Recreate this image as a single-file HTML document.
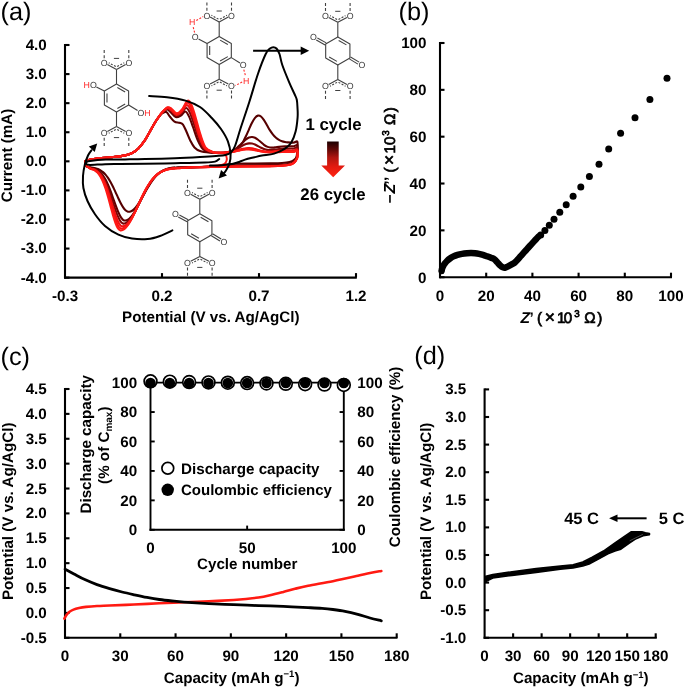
<!DOCTYPE html>
<html><head><meta charset="utf-8"><style>
html,body{margin:0;padding:0;background:#fff;}
svg{display:block;font-family:"Liberation Sans", sans-serif;text-rendering:geometricPrecision;filter:blur(0.3px);}
</style></head><body>
<svg width="685" height="687" viewBox="0 0 685 687">
<rect width="685" height="687" fill="#fff"/>
<text x="0.50" y="19.60" font-size="25.3" font-weight="normal" text-anchor="start" fill="#000">(a)</text>
<text x="398.50" y="19.60" font-size="25.3" font-weight="normal" text-anchor="start" fill="#000">(b)</text>
<text x="0.50" y="364.50" font-size="25.3" font-weight="normal" text-anchor="start" fill="#000">(c)</text>
<text x="414.30" y="364.00" font-size="25.3" font-weight="normal" text-anchor="start" fill="#000">(d)</text>
<line x1="65.00" y1="44.00" x2="65.00" y2="278.60" stroke="#000" stroke-width="2.1"/>
<line x1="64.00" y1="277.60" x2="356.80" y2="277.60" stroke="#000" stroke-width="2.1"/>
<line x1="65.00" y1="45.00" x2="69.50" y2="45.00" stroke="#000" stroke-width="2.1"/>
<text x="46.80" y="49.90" font-size="15.2" font-weight="bold" text-anchor="end" fill="#000">4.0</text>
<line x1="65.00" y1="74.08" x2="69.50" y2="74.08" stroke="#000" stroke-width="2.1"/>
<text x="46.80" y="78.98" font-size="15.2" font-weight="bold" text-anchor="end" fill="#000">3.0</text>
<line x1="65.00" y1="103.16" x2="69.50" y2="103.16" stroke="#000" stroke-width="2.1"/>
<text x="46.80" y="108.06" font-size="15.2" font-weight="bold" text-anchor="end" fill="#000">2.0</text>
<line x1="65.00" y1="132.24" x2="69.50" y2="132.24" stroke="#000" stroke-width="2.1"/>
<text x="46.80" y="137.14" font-size="15.2" font-weight="bold" text-anchor="end" fill="#000">1.0</text>
<line x1="65.00" y1="161.32" x2="69.50" y2="161.32" stroke="#000" stroke-width="2.1"/>
<text x="46.80" y="166.22" font-size="15.2" font-weight="bold" text-anchor="end" fill="#000">0.0</text>
<line x1="65.00" y1="190.40" x2="69.50" y2="190.40" stroke="#000" stroke-width="2.1"/>
<text x="46.80" y="195.30" font-size="15.2" font-weight="bold" text-anchor="end" fill="#000">-1.0</text>
<line x1="65.00" y1="219.48" x2="69.50" y2="219.48" stroke="#000" stroke-width="2.1"/>
<text x="46.80" y="224.38" font-size="15.2" font-weight="bold" text-anchor="end" fill="#000">-2.0</text>
<line x1="65.00" y1="248.56" x2="69.50" y2="248.56" stroke="#000" stroke-width="2.1"/>
<text x="46.80" y="253.46" font-size="15.2" font-weight="bold" text-anchor="end" fill="#000">-3.0</text>
<line x1="65.00" y1="277.64" x2="69.50" y2="277.64" stroke="#000" stroke-width="2.1"/>
<text x="46.80" y="282.54" font-size="15.2" font-weight="bold" text-anchor="end" fill="#000">-4.0</text>
<text x="65.00" y="301.30" font-size="15.2" font-weight="bold" text-anchor="middle" fill="#000">-0.3</text>
<line x1="162.00" y1="277.60" x2="162.00" y2="273.10" stroke="#000" stroke-width="2.1"/>
<text x="162.00" y="301.30" font-size="15.2" font-weight="bold" text-anchor="middle" fill="#000">0.2</text>
<line x1="259.00" y1="277.60" x2="259.00" y2="273.10" stroke="#000" stroke-width="2.1"/>
<text x="259.00" y="301.30" font-size="15.2" font-weight="bold" text-anchor="middle" fill="#000">0.7</text>
<line x1="356.00" y1="277.60" x2="356.00" y2="273.10" stroke="#000" stroke-width="2.1"/>
<text x="356.00" y="301.30" font-size="15.2" font-weight="bold" text-anchor="middle" fill="#000">1.2</text>
<text x="210.80" y="322.40" font-size="15.2" font-weight="bold" text-anchor="middle" fill="#000">Potential (V vs. Ag/AgCl)</text>
<text x="12.20" y="155.50" font-size="15.2" font-weight="bold" text-anchor="middle" fill="#000" transform="rotate(-90 12.2 155.5)">Current (mA)</text>
<line x1="440.00" y1="42.00" x2="440.00" y2="278.20" stroke="#000" stroke-width="2.1"/>
<line x1="439.00" y1="277.20" x2="672.00" y2="277.20" stroke="#000" stroke-width="2.1"/>
<line x1="440.00" y1="43.00" x2="444.50" y2="43.00" stroke="#000" stroke-width="2.1"/>
<text x="426.50" y="48.30" font-size="15.2" font-weight="bold" text-anchor="end" fill="#000">100</text>
<line x1="440.00" y1="89.84" x2="444.50" y2="89.84" stroke="#000" stroke-width="2.1"/>
<text x="426.50" y="95.14" font-size="15.2" font-weight="bold" text-anchor="end" fill="#000">80</text>
<line x1="440.00" y1="136.68" x2="444.50" y2="136.68" stroke="#000" stroke-width="2.1"/>
<text x="426.50" y="141.98" font-size="15.2" font-weight="bold" text-anchor="end" fill="#000">60</text>
<line x1="440.00" y1="183.52" x2="444.50" y2="183.52" stroke="#000" stroke-width="2.1"/>
<text x="426.50" y="188.82" font-size="15.2" font-weight="bold" text-anchor="end" fill="#000">40</text>
<line x1="440.00" y1="230.36" x2="444.50" y2="230.36" stroke="#000" stroke-width="2.1"/>
<text x="426.50" y="235.66" font-size="15.2" font-weight="bold" text-anchor="end" fill="#000">20</text>
<line x1="440.00" y1="277.20" x2="444.50" y2="277.20" stroke="#000" stroke-width="2.1"/>
<text x="426.50" y="282.50" font-size="15.2" font-weight="bold" text-anchor="end" fill="#000">0</text>
<text x="440.00" y="300.80" font-size="15.2" font-weight="bold" text-anchor="middle" fill="#000">0</text>
<line x1="486.20" y1="277.20" x2="486.20" y2="272.70" stroke="#000" stroke-width="2.1"/>
<text x="486.20" y="300.80" font-size="15.2" font-weight="bold" text-anchor="middle" fill="#000">20</text>
<line x1="532.40" y1="277.20" x2="532.40" y2="272.70" stroke="#000" stroke-width="2.1"/>
<text x="532.40" y="300.80" font-size="15.2" font-weight="bold" text-anchor="middle" fill="#000">40</text>
<line x1="578.60" y1="277.20" x2="578.60" y2="272.70" stroke="#000" stroke-width="2.1"/>
<text x="578.60" y="300.80" font-size="15.2" font-weight="bold" text-anchor="middle" fill="#000">60</text>
<line x1="624.80" y1="277.20" x2="624.80" y2="272.70" stroke="#000" stroke-width="2.1"/>
<text x="624.80" y="300.80" font-size="15.2" font-weight="bold" text-anchor="middle" fill="#000">80</text>
<line x1="671.00" y1="277.20" x2="671.00" y2="272.70" stroke="#000" stroke-width="2.1"/>
<text x="671.00" y="300.80" font-size="15.2" font-weight="bold" text-anchor="middle" fill="#000">100</text>
<text x="520.49" y="322.80" font-size="15.6" font-weight="bold" fill="#000" font-style="italic">Z</text>
<text x="529.54" y="322.80" font-size="15.2" font-weight="bold" fill="#000">’</text>
<text x="537.09" y="322.80" font-size="15.2" font-weight="normal" fill="#000" stroke="#000" stroke-width="0.7">(</text>
<text x="544.67" y="322.80" font-size="17.5" font-weight="normal" fill="#000" stroke="#000" stroke-width="0.7">×</text>
<text x="557.06" y="322.80" font-size="15.2" font-weight="normal" fill="#000" stroke="#000" stroke-width="0.7">1</text>
<text x="563.79" y="322.80" font-size="15.2" font-weight="normal" fill="#000" stroke="#000" stroke-width="0.7">0</text>
<text x="574.21" y="316.80" font-size="9.8" font-weight="normal" fill="#000" stroke="#000" stroke-width="0.7">3</text>
<text x="584.32" y="322.80" font-size="15.2" font-weight="normal" fill="#000" stroke="#000" stroke-width="0.7">Ω</text>
<text x="597.35" y="322.80" font-size="15.2" font-weight="normal" fill="#000" stroke="#000" stroke-width="0.7">)</text>
<text x="-203.21" y="0" font-size="15.2" font-weight="bold" fill="#000" transform="translate(395.20,0) rotate(-90)">−</text>
<text x="-193.40" y="0" font-size="16.0" font-weight="bold" fill="#000" font-style="italic" transform="translate(395.20,0) rotate(-90)">Z</text>
<text x="-184.66" y="0" font-size="15.2" font-weight="bold" fill="#000" transform="translate(395.20,0) rotate(-90)">’’</text>
<text x="-172.51" y="0" font-size="15.2" font-weight="normal" fill="#000" stroke="#000" stroke-width="0.7" transform="translate(395.20,0) rotate(-90)">(</text>
<text x="-164.92" y="0" font-size="17.5" font-weight="normal" fill="#000" stroke="#000" stroke-width="0.7" transform="translate(395.20,0) rotate(-90)">×</text>
<text x="-153.44" y="0" font-size="15.2" font-weight="normal" fill="#000" stroke="#000" stroke-width="0.7" transform="translate(395.20,0) rotate(-90)">1</text>
<text x="-145.01" y="0" font-size="15.2" font-weight="normal" fill="#000" stroke="#000" stroke-width="0.7" transform="translate(395.20,0) rotate(-90)">0</text>
<text x="-135.69" y="0" font-size="9.8" font-weight="normal" fill="#000" stroke="#000" stroke-width="0.7" transform="translate(389.20,0) rotate(-90)">3</text>
<text x="-125.08" y="0" font-size="15.2" font-weight="normal" fill="#000" stroke="#000" stroke-width="0.7" transform="translate(395.20,0) rotate(-90)">Ω</text>
<text x="-112.25" y="0" font-size="15.2" font-weight="normal" fill="#000" stroke="#000" stroke-width="0.7" transform="translate(395.20,0) rotate(-90)">)</text>
<line x1="65.00" y1="388.00" x2="65.00" y2="638.80" stroke="#000" stroke-width="2.1"/>
<line x1="64.00" y1="637.80" x2="397.50" y2="637.80" stroke="#000" stroke-width="2.1"/>
<line x1="65.00" y1="389.00" x2="69.50" y2="389.00" stroke="#000" stroke-width="2.1"/>
<text x="46.80" y="394.00" font-size="15.2" font-weight="bold" text-anchor="end" fill="#000">4.5</text>
<line x1="65.00" y1="413.88" x2="69.50" y2="413.88" stroke="#000" stroke-width="2.1"/>
<text x="46.80" y="418.88" font-size="15.2" font-weight="bold" text-anchor="end" fill="#000">4.0</text>
<line x1="65.00" y1="438.76" x2="69.50" y2="438.76" stroke="#000" stroke-width="2.1"/>
<text x="46.80" y="443.76" font-size="15.2" font-weight="bold" text-anchor="end" fill="#000">3.5</text>
<line x1="65.00" y1="463.64" x2="69.50" y2="463.64" stroke="#000" stroke-width="2.1"/>
<text x="46.80" y="468.64" font-size="15.2" font-weight="bold" text-anchor="end" fill="#000">3.0</text>
<line x1="65.00" y1="488.52" x2="69.50" y2="488.52" stroke="#000" stroke-width="2.1"/>
<text x="46.80" y="493.52" font-size="15.2" font-weight="bold" text-anchor="end" fill="#000">2.5</text>
<line x1="65.00" y1="513.40" x2="69.50" y2="513.40" stroke="#000" stroke-width="2.1"/>
<text x="46.80" y="518.40" font-size="15.2" font-weight="bold" text-anchor="end" fill="#000">2.0</text>
<line x1="65.00" y1="538.28" x2="69.50" y2="538.28" stroke="#000" stroke-width="2.1"/>
<text x="46.80" y="543.28" font-size="15.2" font-weight="bold" text-anchor="end" fill="#000">1.5</text>
<line x1="65.00" y1="563.16" x2="69.50" y2="563.16" stroke="#000" stroke-width="2.1"/>
<text x="46.80" y="568.16" font-size="15.2" font-weight="bold" text-anchor="end" fill="#000">1.0</text>
<line x1="65.00" y1="588.04" x2="69.50" y2="588.04" stroke="#000" stroke-width="2.1"/>
<text x="46.80" y="593.04" font-size="15.2" font-weight="bold" text-anchor="end" fill="#000">0.5</text>
<line x1="65.00" y1="612.92" x2="69.50" y2="612.92" stroke="#000" stroke-width="2.1"/>
<text x="46.80" y="617.92" font-size="15.2" font-weight="bold" text-anchor="end" fill="#000">0.0</text>
<line x1="65.00" y1="637.80" x2="69.50" y2="637.80" stroke="#000" stroke-width="2.1"/>
<text x="46.80" y="642.80" font-size="15.2" font-weight="bold" text-anchor="end" fill="#000">-0.5</text>
<text x="65.00" y="661.00" font-size="15.2" font-weight="bold" text-anchor="middle" fill="#000">0</text>
<line x1="120.28" y1="637.80" x2="120.28" y2="633.30" stroke="#000" stroke-width="2.1"/>
<text x="120.28" y="661.00" font-size="15.2" font-weight="bold" text-anchor="middle" fill="#000">30</text>
<line x1="175.57" y1="637.80" x2="175.57" y2="633.30" stroke="#000" stroke-width="2.1"/>
<text x="175.57" y="661.00" font-size="15.2" font-weight="bold" text-anchor="middle" fill="#000">60</text>
<line x1="230.85" y1="637.80" x2="230.85" y2="633.30" stroke="#000" stroke-width="2.1"/>
<text x="230.85" y="661.00" font-size="15.2" font-weight="bold" text-anchor="middle" fill="#000">90</text>
<line x1="286.13" y1="637.80" x2="286.13" y2="633.30" stroke="#000" stroke-width="2.1"/>
<text x="286.13" y="661.00" font-size="15.2" font-weight="bold" text-anchor="middle" fill="#000">120</text>
<line x1="341.42" y1="637.80" x2="341.42" y2="633.30" stroke="#000" stroke-width="2.1"/>
<text x="341.42" y="661.00" font-size="15.2" font-weight="bold" text-anchor="middle" fill="#000">150</text>
<line x1="396.70" y1="637.80" x2="396.70" y2="633.30" stroke="#000" stroke-width="2.1"/>
<text x="396.70" y="661.00" font-size="15.2" font-weight="bold" text-anchor="middle" fill="#000">180</text>
<text x="231.6" y="682.6" font-size="15.2" font-weight="bold" text-anchor="middle">Capacity (mAh g<tspan font-size="9.5" dy="-5.2">&#8722;1</tspan><tspan dy="5.2">)</tspan></text>
<text x="12.80" y="511.30" font-size="15.2" font-weight="bold" text-anchor="middle" fill="#000" transform="rotate(-90 12.8 511.3)">Potential (V vs. Ag/AgCl)</text>
<line x1="484.60" y1="388.40" x2="484.60" y2="638.80" stroke="#000" stroke-width="2.1"/>
<line x1="483.60" y1="637.80" x2="656.80" y2="637.80" stroke="#000" stroke-width="2.1"/>
<line x1="484.60" y1="389.40" x2="489.10" y2="389.40" stroke="#000" stroke-width="2.1"/>
<text x="466.30" y="394.40" font-size="15.2" font-weight="bold" text-anchor="end" fill="#000">3.5</text>
<line x1="484.60" y1="417.00" x2="489.10" y2="417.00" stroke="#000" stroke-width="2.1"/>
<text x="466.30" y="422.00" font-size="15.2" font-weight="bold" text-anchor="end" fill="#000">3.0</text>
<line x1="484.60" y1="444.60" x2="489.10" y2="444.60" stroke="#000" stroke-width="2.1"/>
<text x="466.30" y="449.60" font-size="15.2" font-weight="bold" text-anchor="end" fill="#000">2.5</text>
<line x1="484.60" y1="472.20" x2="489.10" y2="472.20" stroke="#000" stroke-width="2.1"/>
<text x="466.30" y="477.20" font-size="15.2" font-weight="bold" text-anchor="end" fill="#000">2.0</text>
<line x1="484.60" y1="499.80" x2="489.10" y2="499.80" stroke="#000" stroke-width="2.1"/>
<text x="466.30" y="504.80" font-size="15.2" font-weight="bold" text-anchor="end" fill="#000">1.5</text>
<line x1="484.60" y1="527.40" x2="489.10" y2="527.40" stroke="#000" stroke-width="2.1"/>
<text x="466.30" y="532.40" font-size="15.2" font-weight="bold" text-anchor="end" fill="#000">1.0</text>
<line x1="484.60" y1="555.00" x2="489.10" y2="555.00" stroke="#000" stroke-width="2.1"/>
<text x="466.30" y="560.00" font-size="15.2" font-weight="bold" text-anchor="end" fill="#000">0.5</text>
<line x1="484.60" y1="582.60" x2="489.10" y2="582.60" stroke="#000" stroke-width="2.1"/>
<text x="466.30" y="587.60" font-size="15.2" font-weight="bold" text-anchor="end" fill="#000">0.0</text>
<line x1="484.60" y1="610.20" x2="489.10" y2="610.20" stroke="#000" stroke-width="2.1"/>
<text x="466.30" y="615.20" font-size="15.2" font-weight="bold" text-anchor="end" fill="#000">-0.5</text>
<line x1="484.60" y1="637.80" x2="489.10" y2="637.80" stroke="#000" stroke-width="2.1"/>
<text x="466.30" y="642.80" font-size="15.2" font-weight="bold" text-anchor="end" fill="#000">-1.0</text>
<text x="484.60" y="661.00" font-size="15.2" font-weight="bold" text-anchor="middle" fill="#000">0</text>
<line x1="513.12" y1="637.80" x2="513.12" y2="633.30" stroke="#000" stroke-width="2.1"/>
<text x="513.12" y="661.00" font-size="15.2" font-weight="bold" text-anchor="middle" fill="#000">30</text>
<line x1="541.63" y1="637.80" x2="541.63" y2="633.30" stroke="#000" stroke-width="2.1"/>
<text x="541.63" y="661.00" font-size="15.2" font-weight="bold" text-anchor="middle" fill="#000">60</text>
<line x1="570.15" y1="637.80" x2="570.15" y2="633.30" stroke="#000" stroke-width="2.1"/>
<text x="570.15" y="661.00" font-size="15.2" font-weight="bold" text-anchor="middle" fill="#000">90</text>
<line x1="598.67" y1="637.80" x2="598.67" y2="633.30" stroke="#000" stroke-width="2.1"/>
<text x="598.67" y="661.00" font-size="15.2" font-weight="bold" text-anchor="middle" fill="#000">120</text>
<line x1="627.18" y1="637.80" x2="627.18" y2="633.30" stroke="#000" stroke-width="2.1"/>
<text x="627.18" y="661.00" font-size="15.2" font-weight="bold" text-anchor="middle" fill="#000">150</text>
<line x1="655.70" y1="637.80" x2="655.70" y2="633.30" stroke="#000" stroke-width="2.1"/>
<text x="655.70" y="661.00" font-size="15.2" font-weight="bold" text-anchor="middle" fill="#000">180</text>
<text x="580.8" y="682.8" font-size="15.2" font-weight="bold" text-anchor="middle">Capacity (mAh g<tspan font-size="9.5" dy="-5.2">&#8722;1</tspan><tspan dy="5.2">)</tspan></text>
<text x="431.00" y="511.30" font-size="15.2" font-weight="bold" text-anchor="middle" fill="#000" transform="rotate(-90 431.0 511.3)">Potential (V vs. Ag/AgCl)</text>
<path d="M441.60,271.00 C441.70,270.53 441.92,269.07 442.20,268.20 C442.48,267.33 442.83,266.62 443.30,265.80 C443.77,264.98 444.38,264.10 445.00,263.30 C445.62,262.50 446.17,261.80 447.00,261.00 C447.83,260.20 448.92,259.27 450.00,258.50 C451.08,257.73 452.25,257.00 453.50,256.40 C454.75,255.80 456.08,255.32 457.50,254.90 C458.92,254.48 460.42,254.17 462.00,253.90 C463.58,253.63 465.50,253.43 467.00,253.30 C468.50,253.17 469.67,253.10 471.00,253.10 C472.33,253.10 473.67,253.17 475.00,253.30 C476.33,253.43 477.67,253.63 479.00,253.90 C480.33,254.17 481.67,254.50 483.00,254.90 C484.33,255.30 485.67,255.82 487.00,256.30 C488.33,256.78 489.75,257.30 491.00,257.80 C492.25,258.30 493.43,258.53 494.50,259.30 C495.57,260.07 496.42,261.35 497.40,262.40 C498.38,263.45 499.47,264.77 500.40,265.60 C501.33,266.43 502.23,267.05 503.00,267.40 C503.77,267.75 504.23,267.83 505.00,267.70 C505.77,267.57 506.48,267.15 507.60,266.60 C508.72,266.05 510.52,265.07 511.70,264.40 C512.88,263.73 513.73,263.37 514.70,262.60 C515.67,261.83 516.47,260.92 517.50,259.80 C518.53,258.68 519.82,257.13 520.90,255.90 C521.98,254.67 522.98,253.53 524.00,252.40 C525.02,251.27 526.00,250.20 527.00,249.10 C528.00,248.00 528.98,246.92 530.00,245.80 C531.02,244.68 532.10,243.50 533.10,242.40 C534.10,241.30 535.10,240.17 536.00,239.20 C536.90,238.23 538.08,237.03 538.50,236.60" stroke="#000" stroke-width="6.5" fill="none" stroke-linejoin="round" stroke-linecap="round"/>
<circle cx="540.7" cy="235.0" r="3.5" fill="#000"/>
<circle cx="544.9" cy="230.5" r="3.5" fill="#000"/>
<circle cx="549.3" cy="225.3" r="3.5" fill="#000"/>
<circle cx="554.0" cy="219.2" r="3.5" fill="#000"/>
<circle cx="559.8" cy="212.3" r="3.5" fill="#000"/>
<circle cx="566.2" cy="204.8" r="3.5" fill="#000"/>
<circle cx="573.1" cy="196.3" r="3.5" fill="#000"/>
<circle cx="580.8" cy="186.9" r="3.5" fill="#000"/>
<circle cx="589.4" cy="176.4" r="3.5" fill="#000"/>
<circle cx="599.0" cy="164.2" r="3.5" fill="#000"/>
<circle cx="608.7" cy="149.0" r="3.5" fill="#000"/>
<circle cx="620.6" cy="133.2" r="3.5" fill="#000"/>
<circle cx="635.0" cy="117.8" r="3.5" fill="#000"/>
<circle cx="649.9" cy="99.5" r="3.5" fill="#000"/>
<circle cx="667.0" cy="78.2" r="3.5" fill="#000"/>
<path d="M64.40,618.60 C64.72,618.03 65.50,616.30 66.30,615.20 C67.10,614.10 68.00,612.93 69.20,612.00 C70.40,611.07 71.87,610.27 73.50,609.60 C75.13,608.93 76.92,608.45 79.00,608.00 C81.08,607.55 83.00,607.23 86.00,606.90 C89.00,606.57 93.07,606.23 97.00,606.00 C100.93,605.77 103.43,605.75 109.60,605.50 C115.77,605.25 125.72,604.87 134.00,604.50 C142.28,604.13 150.97,603.67 159.30,603.30 C167.63,602.93 175.73,602.63 184.00,602.30 C192.27,601.97 200.62,601.68 208.90,601.30 C217.18,600.92 227.52,600.38 233.70,600.00 C239.88,599.62 241.87,599.42 246.00,599.00 C250.13,598.58 254.50,598.13 258.50,597.50 C262.50,596.87 265.87,596.13 270.00,595.20 C274.13,594.27 279.13,592.97 283.30,591.90 C287.47,590.83 290.87,589.82 295.00,588.80 C299.13,587.78 301.78,587.07 308.10,585.80 C314.42,584.53 324.62,582.87 332.90,581.20 C341.18,579.53 351.62,577.17 357.80,575.80 C363.98,574.43 366.08,573.80 370.00,573.00 C373.92,572.20 379.42,571.33 381.30,571.00" stroke="#ff1a12" stroke-width="2.6" fill="none" stroke-linejoin="round" stroke-linecap="round"/>
<path d="M65.10,569.20 C66.58,570.00 70.72,572.27 74.00,574.00 C77.28,575.73 80.97,577.83 84.80,579.60 C88.63,581.37 92.87,583.10 97.00,584.60 C101.13,586.10 105.43,587.37 109.60,588.60 C113.77,589.83 117.87,590.97 122.00,592.00 C126.13,593.03 130.23,593.90 134.40,594.80 C138.57,595.70 142.85,596.62 147.00,597.40 C151.15,598.18 155.13,598.90 159.30,599.50 C163.47,600.10 167.88,600.57 172.00,601.00 C176.12,601.43 177.85,601.67 184.00,602.10 C190.15,602.53 200.62,603.17 208.90,603.60 C217.18,604.03 225.43,604.37 233.70,604.70 C241.97,605.03 250.23,605.32 258.50,605.60 C266.77,605.88 275.03,606.07 283.30,606.40 C291.57,606.73 301.65,607.27 308.10,607.60 C314.55,607.93 317.87,608.08 322.00,608.40 C326.13,608.72 329.07,609.02 332.90,609.50 C336.73,609.98 340.85,610.50 345.00,611.30 C349.15,612.10 353.63,613.18 357.80,614.30 C361.97,615.42 366.08,616.92 370.00,618.00 C373.92,619.08 379.42,620.33 381.30,620.80" stroke="#000" stroke-width="2.8" fill="none" stroke-linejoin="round" stroke-linecap="round"/>
<line x1="150.50" y1="382.60" x2="150.50" y2="530.80" stroke="#000" stroke-width="1.9"/>
<line x1="343.80" y1="382.60" x2="343.80" y2="530.80" stroke="#000" stroke-width="1.9"/>
<line x1="149.50" y1="529.80" x2="344.80" y2="529.80" stroke="#000" stroke-width="1.9"/>
<line x1="150.50" y1="529.80" x2="154.70" y2="529.80" stroke="#000" stroke-width="1.9"/>
<line x1="343.80" y1="529.80" x2="339.60" y2="529.80" stroke="#000" stroke-width="1.9"/>
<text x="137.20" y="535.00" font-size="15.2" font-weight="bold" text-anchor="end" fill="#000">0</text>
<text x="357.30" y="535.00" font-size="15.2" font-weight="bold" text-anchor="start" fill="#000">0</text>
<line x1="150.50" y1="500.36" x2="154.70" y2="500.36" stroke="#000" stroke-width="1.9"/>
<line x1="343.80" y1="500.36" x2="339.60" y2="500.36" stroke="#000" stroke-width="1.9"/>
<text x="137.20" y="505.56" font-size="15.2" font-weight="bold" text-anchor="end" fill="#000">20</text>
<text x="357.30" y="505.56" font-size="15.2" font-weight="bold" text-anchor="start" fill="#000">20</text>
<line x1="150.50" y1="470.92" x2="154.70" y2="470.92" stroke="#000" stroke-width="1.9"/>
<line x1="343.80" y1="470.92" x2="339.60" y2="470.92" stroke="#000" stroke-width="1.9"/>
<text x="137.20" y="476.12" font-size="15.2" font-weight="bold" text-anchor="end" fill="#000">40</text>
<text x="357.30" y="476.12" font-size="15.2" font-weight="bold" text-anchor="start" fill="#000">40</text>
<line x1="150.50" y1="441.48" x2="154.70" y2="441.48" stroke="#000" stroke-width="1.9"/>
<line x1="343.80" y1="441.48" x2="339.60" y2="441.48" stroke="#000" stroke-width="1.9"/>
<text x="137.20" y="446.68" font-size="15.2" font-weight="bold" text-anchor="end" fill="#000">60</text>
<text x="357.30" y="446.68" font-size="15.2" font-weight="bold" text-anchor="start" fill="#000">60</text>
<line x1="150.50" y1="412.04" x2="154.70" y2="412.04" stroke="#000" stroke-width="1.9"/>
<line x1="343.80" y1="412.04" x2="339.60" y2="412.04" stroke="#000" stroke-width="1.9"/>
<text x="137.20" y="417.24" font-size="15.2" font-weight="bold" text-anchor="end" fill="#000">80</text>
<text x="357.30" y="417.24" font-size="15.2" font-weight="bold" text-anchor="start" fill="#000">80</text>
<line x1="150.50" y1="382.60" x2="154.70" y2="382.60" stroke="#000" stroke-width="1.9"/>
<line x1="343.80" y1="382.60" x2="339.60" y2="382.60" stroke="#000" stroke-width="1.9"/>
<text x="137.20" y="387.80" font-size="15.2" font-weight="bold" text-anchor="end" fill="#000">100</text>
<text x="357.30" y="387.80" font-size="15.2" font-weight="bold" text-anchor="start" fill="#000">100</text>
<line x1="247.15" y1="529.80" x2="247.15" y2="525.60" stroke="#000" stroke-width="1.9"/>
<text x="150.50" y="552.80" font-size="15.2" font-weight="bold" text-anchor="middle" fill="#000">0</text>
<text x="247.15" y="552.80" font-size="15.2" font-weight="bold" text-anchor="middle" fill="#000">50</text>
<text x="343.80" y="552.80" font-size="15.2" font-weight="bold" text-anchor="middle" fill="#000">100</text>
<text x="247.20" y="569.00" font-size="15.2" font-weight="bold" text-anchor="middle" fill="#000">Cycle number</text>
<line x1="150.50" y1="382.60" x2="343.80" y2="382.60" stroke="#000" stroke-width="1.6"/>
<circle cx="150.50" cy="381.30" r="6.4" fill="#fff" stroke="#000" stroke-width="1.7"/>
<circle cx="150.50" cy="383.0" r="5.3" fill="#000"/>
<circle cx="169.83" cy="381.66" r="6.4" fill="#fff" stroke="#000" stroke-width="1.7"/>
<circle cx="169.83" cy="383.0" r="5.3" fill="#000"/>
<circle cx="189.16" cy="382.02" r="6.4" fill="#fff" stroke="#000" stroke-width="1.7"/>
<circle cx="189.16" cy="383.0" r="5.3" fill="#000"/>
<circle cx="208.49" cy="382.38" r="6.4" fill="#fff" stroke="#000" stroke-width="1.7"/>
<circle cx="208.49" cy="383.0" r="5.3" fill="#000"/>
<circle cx="227.82" cy="382.74" r="6.4" fill="#fff" stroke="#000" stroke-width="1.7"/>
<circle cx="227.82" cy="383.0" r="5.3" fill="#000"/>
<circle cx="247.15" cy="383.10" r="6.4" fill="#fff" stroke="#000" stroke-width="1.7"/>
<circle cx="247.15" cy="383.0" r="5.3" fill="#000"/>
<circle cx="266.48" cy="383.46" r="6.4" fill="#fff" stroke="#000" stroke-width="1.7"/>
<circle cx="266.48" cy="383.0" r="5.3" fill="#000"/>
<circle cx="285.81" cy="383.82" r="6.4" fill="#fff" stroke="#000" stroke-width="1.7"/>
<circle cx="285.81" cy="383.0" r="5.3" fill="#000"/>
<circle cx="305.14" cy="384.18" r="6.4" fill="#fff" stroke="#000" stroke-width="1.7"/>
<circle cx="305.14" cy="383.0" r="5.3" fill="#000"/>
<circle cx="324.47" cy="384.54" r="6.4" fill="#fff" stroke="#000" stroke-width="1.7"/>
<circle cx="324.47" cy="383.0" r="5.3" fill="#000"/>
<circle cx="343.80" cy="384.90" r="6.4" fill="#fff" stroke="#000" stroke-width="1.7"/>
<circle cx="343.80" cy="383.0" r="5.3" fill="#000"/>
<circle cx="167.8" cy="468.2" r="5.9" fill="#fff" stroke="#000" stroke-width="1.7"/>
<circle cx="167.7" cy="489.8" r="6.2" fill="#000"/>
<text x="181.00" y="473.90" font-size="15.2" font-weight="bold" text-anchor="start" fill="#000">Discharge capacity</text>
<text x="181.00" y="494.60" font-size="15.0" font-weight="bold" text-anchor="start" fill="#000">Coulombic efficiency</text>
<text x="91.00" y="444.30" font-size="15.2" font-weight="bold" text-anchor="middle" fill="#000" transform="rotate(-90 91.0 444.3)">Discharge capacity</text>
<text x="108.6" y="445.2" font-size="15.2" font-weight="bold" text-anchor="middle" transform="rotate(-90 108.6 445.2)">(% of C<tspan font-size="10" dy="3.5">max</tspan><tspan dy="-3.5">)</tspan></text>
<text x="399.50" y="457.00" font-size="15.2" font-weight="bold" text-anchor="middle" fill="#000" transform="rotate(-90 399.5 457.0)">Coulombic efficiency (%)</text>
<path d="M484.8,576.5 L492.8,574.4 L512.1,571.7 L536.2,568.5 L560.3,566.1 L573.1,564.8 L582.8,562.0 L591.7,557.4 L603.4,551.0 L615.0,542.8 L624.4,536.4 L631.4,531.7 L641.9,531.7 L645.4,532.8 L649.5,533.6 L649.5,534.8 L643.1,535.8 L636.1,538.7 L629.0,543.4 L620.9,549.2 L615.0,551.0 L608.0,553.9 L597.5,559.7 L590.0,563.7 L582.8,566.1 L573.1,568.0 L560.3,569.3 L536.2,572.5 L512.1,575.4 L492.8,578.1 L484.8,582.1Z" fill="#000" stroke="#000" stroke-width="1.5" stroke-linejoin="round"/>
<line x1="629.7" y1="540.8" x2="642.8" y2="534.4" stroke="#777" stroke-width="0.6"/>
<text x="564.20" y="524.00" font-size="16.5" font-weight="bold" text-anchor="start" fill="#000">45 C</text>
<text x="658.80" y="524.00" font-size="16.5" font-weight="bold" text-anchor="start" fill="#000">5 C</text>
<line x1="616.00" y1="518.30" x2="646.60" y2="518.30" stroke="#000" stroke-width="2.0"/>
<path d="M609.1,518.3 L617.5,514.6 L617.5,522.0 Z" fill="#000"/>
<path d="M85.90,160.90 C87.57,160.13 91.25,159.40 95.40,158.80 C99.55,158.20 106.03,157.83 110.80,157.30 C115.57,156.77 120.43,156.32 124.00,155.60 C127.57,154.88 129.80,154.20 132.20,153.00 C134.60,151.80 136.27,150.53 138.40,148.40 C140.53,146.27 142.98,143.18 145.00,140.20 C147.02,137.22 148.70,133.65 150.50,130.50 C152.30,127.35 153.95,124.08 155.80,121.30 C157.65,118.52 159.85,115.35 161.60,113.80 C163.35,112.25 164.93,111.55 166.30,112.00 C167.67,112.45 168.43,114.90 169.80,116.50 C171.17,118.10 172.88,120.55 174.50,121.60 C176.12,122.65 178.08,122.30 179.50,122.80 C180.92,123.30 181.83,123.10 183.00,124.60 C184.17,126.10 185.25,129.07 186.50,131.80 C187.75,134.53 189.17,138.38 190.50,141.00 C191.83,143.62 192.92,145.83 194.50,147.50 C196.08,149.17 197.42,150.15 200.00,151.00 C202.58,151.85 206.50,152.27 210.00,152.60 C213.50,152.93 218.00,152.99 221.00,153.00 C224.00,153.01 226.33,152.80 228.00,152.67 C229.67,152.53 230.00,152.44 231.00,152.19 C232.00,151.95 233.00,151.68 234.00,151.22 C235.00,150.76 236.00,150.22 237.00,149.41 C238.00,148.61 239.00,147.65 240.00,146.40 C241.00,145.15 242.00,143.65 243.00,141.93 C244.00,140.20 245.00,138.15 246.00,136.05 C247.00,133.95 248.00,131.53 249.00,129.33 C250.00,127.13 251.00,124.74 252.00,122.83 C253.00,120.92 254.00,119.08 255.00,117.88 C256.00,116.68 257.00,115.85 258.00,115.63 C259.00,115.40 260.00,115.78 261.00,116.53 C262.00,117.29 263.00,118.69 264.00,120.15 C265.00,121.60 266.00,123.54 267.00,125.25 C268.00,126.95 269.00,128.83 270.00,130.40 C271.00,131.97 272.00,133.42 273.00,134.65 C274.00,135.88 275.00,136.89 276.00,137.76 C277.00,138.63 278.00,139.31 279.00,139.88 C280.00,140.46 281.00,140.87 282.00,141.22 C283.00,141.58 284.00,141.79 285.00,141.98 C286.00,142.17 287.00,142.27 288.00,142.36 C289.00,142.45 290.00,142.49 291.00,142.53 C292.00,142.56 292.95,142.74 294.00,142.58 C295.05,142.43 296.72,140.76 297.30,141.60 C297.88,142.44 297.62,145.13 297.50,147.60 C297.38,150.07 297.15,154.37 296.60,156.40 C296.05,158.43 295.38,158.87 294.20,159.80 C293.02,160.73 291.53,161.47 289.50,162.00 C287.47,162.53 285.25,162.77 282.00,163.00 C278.75,163.23 274.50,163.30 270.00,163.40 C265.50,163.50 260.83,163.53 255.00,163.60 C249.17,163.67 241.67,163.40 235.00,163.80 C228.33,164.20 221.67,165.43 215.00,166.00 C208.33,166.57 201.17,166.99 195.00,167.20 C188.83,167.41 181.25,167.20 178.00,167.24 C174.75,167.27 176.33,167.33 175.50,167.40 C174.67,167.47 173.83,167.55 173.00,167.65 C172.17,167.76 171.33,167.88 170.50,168.04 C169.67,168.20 168.83,168.38 168.00,168.61 C167.17,168.84 166.33,169.11 165.50,169.43 C164.67,169.76 163.83,170.12 163.00,170.57 C162.17,171.01 161.33,171.51 160.50,172.10 C159.67,172.68 158.83,173.33 158.00,174.08 C157.17,174.83 156.33,175.66 155.50,176.58 C154.67,177.51 153.83,178.52 153.00,179.62 C152.17,180.72 151.33,181.92 150.50,183.18 C149.67,184.44 148.83,185.79 148.00,187.18 C147.17,188.57 146.33,190.04 145.50,191.50 C144.67,192.97 143.83,194.49 143.00,195.96 C142.17,197.43 141.33,198.93 140.50,200.32 C139.67,201.71 138.83,203.08 138.00,204.30 C137.17,205.53 136.33,206.68 135.50,207.65 C134.67,208.62 133.83,209.48 133.00,210.12 C132.17,210.77 131.33,211.26 130.50,211.52 C129.67,211.78 128.83,211.92 128.00,211.71 C127.17,211.49 126.33,211.00 125.50,210.23 C124.67,209.47 123.83,208.38 123.00,207.14 C122.17,205.90 121.33,204.36 120.50,202.78 C119.67,201.19 118.83,199.38 118.00,197.61 C117.17,195.84 116.33,193.94 115.50,192.14 C114.67,190.35 113.83,188.52 113.00,186.83 C112.17,185.14 111.33,183.50 110.50,182.01 C109.67,180.52 108.83,179.14 108.00,177.91 C107.17,176.67 106.33,175.58 105.50,174.61 C104.67,173.64 103.83,172.82 103.00,172.10 C102.17,171.38 101.33,170.79 100.50,170.28 C99.67,169.77 98.83,169.37 98.00,169.02 C97.17,168.68 96.33,168.42 95.50,168.20 C94.67,167.98 93.83,167.82 93.00,167.68 C92.17,167.54 91.30,167.49 90.50,167.37 C89.70,167.26 88.92,167.26 88.20,167.00 C87.48,166.74 86.67,166.40 86.20,165.80 C85.73,165.20 85.45,164.22 85.40,163.40 C85.35,162.58 84.23,161.67 85.90,160.90Z" stroke="#560000" stroke-width="2.1" fill="none" stroke-linejoin="round" stroke-linecap="round"/>
<path d="M85.90,160.90 C87.57,160.13 91.25,159.40 95.40,158.80 C99.55,158.20 106.03,157.83 110.80,157.30 C115.57,156.77 120.43,156.32 124.00,155.60 C127.57,154.88 129.80,154.20 132.20,153.00 C134.60,151.80 136.27,150.53 138.40,148.40 C140.53,146.27 142.98,143.18 145.00,140.20 C147.02,137.22 148.70,133.65 150.50,130.50 C152.30,127.35 153.89,124.24 155.80,121.30 C157.71,118.36 160.12,114.85 161.99,112.86 C163.85,110.88 165.56,109.51 167.02,109.41 C168.47,109.31 169.28,110.99 170.74,112.27 C172.19,113.54 174.08,116.55 175.77,117.09 C177.46,117.63 179.28,116.41 180.88,115.48 C182.47,114.56 184.00,111.38 185.37,111.56 C186.73,111.75 187.80,114.01 189.08,116.62 C190.37,119.23 191.64,123.30 193.08,127.25 C194.53,131.20 196.07,136.65 197.75,140.30 C199.42,143.94 200.76,147.12 203.13,149.13 C205.51,151.14 209.00,151.75 211.98,152.38 C214.96,153.01 218.33,152.94 221.00,152.89 C223.67,152.84 226.33,152.37 228.00,152.09 C229.67,151.81 230.00,151.60 231.00,151.21 C232.00,150.83 233.00,150.36 234.00,149.78 C235.00,149.19 236.00,148.49 237.00,147.71 C238.00,146.92 239.00,145.99 240.00,145.06 C241.00,144.14 242.00,143.08 243.00,142.15 C244.00,141.21 245.00,140.22 246.00,139.46 C247.00,138.69 248.00,137.99 249.00,137.58 C250.00,137.16 251.00,136.93 252.00,136.97 C253.00,137.00 254.00,137.30 255.00,137.76 C256.00,138.22 257.00,138.97 258.00,139.72 C259.00,140.47 260.00,141.44 261.00,142.28 C262.00,143.12 263.00,144.05 264.00,144.78 C265.00,145.50 266.00,146.17 267.00,146.62 C268.00,147.08 269.00,147.36 270.00,147.52 C271.00,147.68 272.00,147.64 273.00,147.59 C274.00,147.54 275.00,147.36 276.00,147.24 C277.00,147.11 278.00,146.96 279.00,146.85 C280.00,146.74 281.00,146.64 282.00,146.57 C283.00,146.49 284.00,146.44 285.00,146.40 C286.00,146.35 287.00,146.33 288.00,146.30 C289.00,146.28 290.00,146.27 291.00,146.25 C292.00,146.24 292.95,146.40 294.00,146.23 C295.05,146.05 296.72,144.37 297.30,145.20 C297.88,146.03 297.62,149.04 297.50,151.20 C297.38,153.36 297.15,156.44 296.60,158.16 C296.05,159.89 295.38,160.63 294.20,161.56 C293.02,162.50 291.53,163.23 289.50,163.76 C287.47,164.30 285.25,164.53 282.00,164.76 C278.75,165.00 274.50,165.06 270.00,165.16 C265.50,165.26 260.83,165.30 255.00,165.36 C249.17,165.43 241.67,165.37 235.00,165.56 C228.33,165.75 221.67,166.23 215.00,166.50 C208.33,166.78 201.17,167.00 195.00,167.20 C188.83,167.40 181.25,167.60 178.00,167.71 C174.75,167.82 176.33,167.80 175.50,167.86 C174.67,167.93 173.83,168.00 173.00,168.10 C172.17,168.20 171.33,168.31 170.50,168.46 C169.67,168.60 168.83,168.77 168.00,168.98 C167.17,169.19 166.33,169.43 165.50,169.73 C164.67,170.02 163.83,170.35 163.00,170.76 C162.17,171.16 161.33,171.62 160.50,172.15 C159.67,172.69 158.83,173.29 158.00,173.98 C157.17,174.68 156.33,175.44 155.50,176.31 C154.67,177.18 153.83,178.13 153.00,179.18 C152.17,180.23 151.33,181.38 150.50,182.62 C149.67,183.86 148.83,185.20 148.00,186.61 C147.17,188.01 146.33,189.52 145.50,191.06 C144.67,192.61 143.83,194.24 143.00,195.87 C142.17,197.50 141.33,199.20 140.50,200.84 C139.67,202.49 138.83,204.17 138.00,205.76 C137.17,207.35 136.33,208.92 135.50,210.36 C134.67,211.79 133.83,213.17 133.00,214.37 C132.17,215.56 131.33,216.65 130.50,217.53 C129.67,218.41 128.83,219.14 128.00,219.65 C127.17,220.15 126.33,220.53 125.50,220.56 C124.67,220.58 123.83,220.46 123.00,219.81 C122.17,219.16 121.33,218.03 120.50,216.64 C119.67,215.25 118.83,213.41 118.00,211.46 C117.17,209.51 116.33,207.21 115.50,204.95 C114.67,202.69 113.83,200.21 113.00,197.88 C112.17,195.55 111.33,193.16 110.50,190.97 C109.67,188.78 108.83,186.66 108.00,184.76 C107.17,182.86 106.33,181.12 105.50,179.59 C104.67,178.05 103.83,176.72 103.00,175.56 C102.17,174.39 101.33,173.44 100.50,172.61 C99.67,171.78 98.83,171.14 98.00,170.58 C97.17,170.02 96.33,169.62 95.50,169.26 C94.67,168.91 93.83,168.67 93.00,168.45 C92.17,168.24 91.30,168.23 90.50,167.98 C89.70,167.74 88.92,167.36 88.20,167.00 C87.48,166.64 86.67,166.40 86.20,165.80 C85.73,165.20 85.45,164.22 85.40,163.40 C85.35,162.58 84.23,161.67 85.90,160.90Z" stroke="#600000" stroke-width="2.1" fill="none" stroke-linejoin="round" stroke-linecap="round"/>
<path d="M85.90,160.90 C87.57,160.13 91.25,159.40 95.40,158.80 C99.55,158.20 106.03,157.83 110.80,157.30 C115.57,156.77 120.43,156.32 124.00,155.60 C127.57,154.88 129.80,154.20 132.20,153.00 C134.60,151.80 136.27,150.53 138.40,148.40 C140.53,146.27 142.98,143.18 145.00,140.20 C147.02,137.22 148.70,133.65 150.50,130.50 C152.30,127.35 153.87,124.28 155.80,121.30 C157.73,118.32 160.19,114.71 162.09,112.61 C163.99,110.51 165.73,108.96 167.21,108.71 C168.69,108.46 169.51,109.92 170.99,111.11 C172.47,112.30 174.40,115.46 176.11,115.86 C177.82,116.26 179.60,114.80 181.25,113.49 C182.90,112.18 184.59,108.18 186.01,108.01 C187.43,107.84 188.49,109.90 189.79,112.48 C191.09,115.06 192.32,119.19 193.79,123.50 C195.26,127.81 196.93,134.14 198.63,138.33 C200.33,142.52 201.67,146.29 203.99,148.62 C206.30,150.95 209.68,151.61 212.52,152.32 C215.35,153.03 218.42,152.89 221.00,152.86 C223.58,152.83 226.33,152.38 228.00,152.13 C229.67,151.88 230.00,151.70 231.00,151.39 C232.00,151.07 233.00,150.70 234.00,150.27 C235.00,149.83 236.00,149.31 237.00,148.77 C238.00,148.24 239.00,147.62 240.00,147.04 C241.00,146.47 242.00,145.85 243.00,145.34 C244.00,144.84 245.00,144.34 246.00,144.02 C247.00,143.69 248.00,143.45 249.00,143.38 C250.00,143.31 251.00,143.39 252.00,143.59 C253.00,143.80 254.00,144.17 255.00,144.59 C256.00,145.00 257.00,145.57 258.00,146.09 C259.00,146.61 260.00,147.21 261.00,147.71 C262.00,148.20 263.00,148.70 264.00,149.07 C265.00,149.43 266.00,149.73 267.00,149.90 C268.00,150.08 269.00,150.13 270.00,150.12 C271.00,150.12 272.00,149.98 273.00,149.87 C274.00,149.75 275.00,149.56 276.00,149.43 C277.00,149.29 278.00,149.15 279.00,149.05 C280.00,148.94 281.00,148.86 282.00,148.79 C283.00,148.73 284.00,148.69 285.00,148.65 C286.00,148.61 287.00,148.59 288.00,148.58 C289.00,148.56 290.00,148.55 291.00,148.54 C292.00,148.53 292.95,148.69 294.00,148.52 C295.05,148.35 296.72,146.67 297.30,147.50 C297.88,148.33 297.62,151.63 297.50,153.50 C297.38,155.37 297.15,157.26 296.60,158.70 C296.05,160.13 295.38,161.16 294.20,162.10 C293.02,163.03 291.53,163.76 289.50,164.30 C287.47,164.83 285.25,165.06 282.00,165.30 C278.75,165.53 274.50,165.60 270.00,165.70 C265.50,165.80 260.83,165.83 255.00,165.90 C249.17,165.96 241.67,165.97 235.00,166.10 C228.33,166.22 221.67,166.47 215.00,166.66 C208.33,166.84 201.17,167.00 195.00,167.20 C188.83,167.40 181.25,167.73 178.00,167.87 C174.75,168.00 176.33,167.95 175.50,168.02 C174.67,168.08 173.83,168.15 173.00,168.25 C172.17,168.35 171.33,168.45 170.50,168.60 C169.67,168.74 168.83,168.90 168.00,169.10 C167.17,169.31 166.33,169.54 165.50,169.82 C164.67,170.11 163.83,170.43 163.00,170.82 C162.17,171.21 161.33,171.65 160.50,172.17 C159.67,172.69 158.83,173.27 158.00,173.94 C157.17,174.61 156.33,175.36 155.50,176.20 C154.67,177.04 153.83,177.97 153.00,179.00 C152.17,180.03 151.33,181.16 150.50,182.37 C149.67,183.59 148.83,184.91 148.00,186.31 C147.17,187.71 146.33,189.21 145.50,190.76 C144.67,192.31 143.83,193.95 143.00,195.61 C142.17,197.27 141.33,199.00 140.50,200.71 C139.67,202.41 138.83,204.17 138.00,205.84 C137.17,207.52 136.33,209.20 135.50,210.76 C134.67,212.33 133.83,213.85 133.00,215.21 C132.17,216.57 131.33,217.84 130.50,218.91 C129.67,219.99 128.83,220.93 128.00,221.64 C127.17,222.36 126.33,222.92 125.50,223.22 C124.67,223.53 123.83,223.80 123.00,223.49 C122.17,223.17 121.33,222.48 120.50,221.34 C119.67,220.19 118.83,218.52 118.00,216.64 C117.17,214.77 116.33,212.44 115.50,210.09 C114.67,207.74 113.83,205.08 113.00,202.54 C112.17,200.01 111.33,197.33 110.50,194.88 C109.67,192.42 108.83,189.99 108.00,187.82 C107.17,185.64 106.33,183.61 105.50,181.83 C104.67,180.04 103.83,178.47 103.00,177.10 C102.17,175.74 101.33,174.61 100.50,173.63 C99.67,172.66 98.83,171.90 98.00,171.24 C97.17,170.58 96.33,170.11 95.50,169.69 C94.67,169.28 93.83,168.99 93.00,168.75 C92.17,168.50 91.30,168.50 90.50,168.20 C89.70,167.91 88.92,167.40 88.20,167.00 C87.48,166.60 86.67,166.40 86.20,165.80 C85.73,165.20 85.45,164.22 85.40,163.40 C85.35,162.58 84.23,161.67 85.90,160.90Z" stroke="#7c0606" stroke-width="2.1" fill="none" stroke-linejoin="round" stroke-linecap="round"/>
<path d="M85.90,160.90 C87.57,160.13 91.25,159.40 95.40,158.80 C99.55,158.20 106.03,157.83 110.80,157.30 C115.57,156.77 120.43,156.32 124.00,155.60 C127.57,154.88 129.80,154.20 132.20,153.00 C134.60,151.80 136.27,150.53 138.40,148.40 C140.53,146.27 142.98,143.18 145.00,140.20 C147.02,137.22 148.70,133.65 150.50,130.50 C152.30,127.35 153.85,124.32 155.80,121.30 C157.75,118.28 160.25,114.60 162.17,112.41 C164.10,110.21 165.86,108.52 167.37,108.15 C168.87,107.78 169.69,109.06 171.19,110.19 C172.70,111.31 174.66,114.59 176.39,114.88 C178.11,115.16 179.86,113.51 181.55,111.89 C183.24,110.28 185.06,105.62 186.53,105.17 C187.99,104.71 189.05,106.61 190.35,109.17 C191.66,111.72 192.86,115.90 194.35,120.50 C195.85,125.10 197.62,132.14 199.34,136.76 C201.06,141.38 202.40,145.63 204.67,148.21 C206.94,150.80 210.23,151.50 212.95,152.27 C215.67,153.04 218.49,152.82 221.00,152.84 C223.51,152.86 226.33,152.54 228.00,152.39 C229.67,152.23 230.00,152.10 231.00,151.91 C232.00,151.72 233.00,151.49 234.00,151.24 C235.00,150.99 236.00,150.69 237.00,150.40 C238.00,150.11 239.00,149.78 240.00,149.50 C241.00,149.22 242.00,148.92 243.00,148.70 C244.00,148.48 245.00,148.28 246.00,148.18 C247.00,148.07 248.00,148.03 249.00,148.07 C250.00,148.10 251.00,148.22 252.00,148.39 C253.00,148.55 254.00,148.81 255.00,149.06 C256.00,149.31 257.00,149.62 258.00,149.89 C259.00,150.17 260.00,150.46 261.00,150.70 C262.00,150.94 263.00,151.16 264.00,151.31 C265.00,151.47 266.00,151.58 267.00,151.63 C268.00,151.68 269.00,151.66 270.00,151.62 C271.00,151.58 272.00,151.47 273.00,151.38 C274.00,151.29 275.00,151.17 276.00,151.08 C277.00,150.98 278.00,150.90 279.00,150.83 C280.00,150.76 281.00,150.72 282.00,150.67 C283.00,150.63 284.00,150.61 285.00,150.59 C286.00,150.57 287.00,150.55 288.00,150.54 C289.00,150.53 290.00,150.53 291.00,150.52 C292.00,150.52 292.95,150.68 294.00,150.51 C295.05,150.34 296.72,148.67 297.30,149.50 C297.88,150.33 297.62,153.90 297.50,155.50 C297.38,157.10 297.15,157.92 296.60,159.09 C296.05,160.25 295.38,161.55 294.20,162.49 C293.02,163.42 291.53,164.15 289.50,164.69 C287.47,165.22 285.25,165.45 282.00,165.69 C278.75,165.92 274.50,165.99 270.00,166.09 C265.50,166.19 260.83,166.22 255.00,166.29 C249.17,166.35 241.67,166.41 235.00,166.49 C228.33,166.57 221.67,166.65 215.00,166.77 C208.33,166.89 201.17,166.99 195.00,167.20 C188.83,167.41 181.25,167.86 178.00,168.02 C174.75,168.18 176.33,168.10 175.50,168.16 C174.67,168.23 173.83,168.30 173.00,168.39 C172.17,168.48 171.33,168.59 170.50,168.73 C169.67,168.87 168.83,169.02 168.00,169.22 C167.17,169.42 166.33,169.64 165.50,169.92 C164.67,170.20 163.83,170.51 163.00,170.88 C162.17,171.26 161.33,171.69 160.50,172.19 C159.67,172.69 158.83,173.25 158.00,173.90 C157.17,174.55 156.33,175.28 155.50,176.10 C154.67,176.92 153.83,177.82 153.00,178.83 C152.17,179.83 151.33,180.93 150.50,182.13 C149.67,183.32 148.83,184.62 148.00,186.01 C147.17,187.39 146.33,188.88 145.50,190.42 C144.67,191.97 143.83,193.62 143.00,195.29 C142.17,196.97 141.33,198.72 140.50,200.47 C139.67,202.22 138.83,204.02 138.00,205.77 C137.17,207.51 136.33,209.28 135.50,210.95 C134.67,212.61 133.83,214.26 133.00,215.75 C132.17,217.25 131.33,218.68 130.50,219.92 C129.67,221.16 128.83,222.29 128.00,223.20 C127.17,224.12 126.33,224.87 125.50,225.39 C124.67,225.92 123.83,226.34 123.00,226.35 C122.17,226.36 121.33,226.25 120.50,225.45 C119.67,224.65 118.83,223.26 118.00,221.55 C117.17,219.84 116.33,217.57 115.50,215.20 C114.67,212.84 113.83,210.05 113.00,207.35 C112.17,204.65 111.33,201.72 110.50,199.01 C109.67,196.30 108.83,193.56 108.00,191.10 C107.17,188.64 106.33,186.30 105.50,184.25 C104.67,182.20 103.83,180.37 103.00,178.78 C102.17,177.20 101.33,175.88 100.50,174.74 C99.67,173.60 98.83,172.71 98.00,171.94 C97.17,171.17 96.33,170.62 95.50,170.13 C94.67,169.65 93.83,169.32 93.00,169.04 C92.17,168.75 91.30,168.76 90.50,168.42 C89.70,168.08 88.92,167.44 88.20,167.00 C87.48,166.56 86.67,166.40 86.20,165.80 C85.73,165.20 85.45,164.22 85.40,163.40 C85.35,162.58 84.23,161.67 85.90,160.90Z" stroke="#f01010" stroke-width="2.1" fill="none" stroke-linejoin="round" stroke-linecap="round"/>
<path d="M85.90,160.90 C87.57,160.13 91.25,159.40 95.40,158.80 C99.55,158.20 106.03,157.83 110.80,157.30 C115.57,156.77 120.43,156.32 124.00,155.60 C127.57,154.88 129.80,154.20 132.20,153.00 C134.60,151.80 136.27,150.53 138.40,148.40 C140.53,146.27 142.98,143.18 145.00,140.20 C147.02,137.22 148.70,133.65 150.50,130.50 C152.30,127.35 153.84,124.34 155.80,121.30 C157.76,118.26 160.29,114.51 162.24,112.24 C164.19,109.97 165.98,108.15 167.50,107.68 C169.02,107.21 169.84,108.35 171.36,109.42 C172.88,110.48 174.88,113.86 176.62,114.06 C178.36,114.25 180.08,112.44 181.80,110.56 C183.52,108.69 185.45,103.49 186.96,102.80 C188.46,102.10 189.51,103.87 190.82,106.41 C192.14,108.94 193.31,113.16 194.82,118.00 C196.34,122.84 198.19,130.47 199.93,135.45 C201.66,140.43 203.01,145.07 205.24,147.87 C207.47,150.67 210.69,151.41 213.31,152.23 C215.94,153.06 218.55,152.78 221.00,152.82 C223.45,152.85 226.33,152.59 228.00,152.46 C229.67,152.34 230.00,152.22 231.00,152.05 C232.00,151.89 233.00,151.69 234.00,151.48 C235.00,151.27 236.00,151.02 237.00,150.78 C238.00,150.53 239.00,150.26 240.00,150.03 C241.00,149.80 242.00,149.56 243.00,149.38 C244.00,149.20 245.00,149.05 246.00,148.97 C247.00,148.90 248.00,148.88 249.00,148.92 C250.00,148.96 251.00,149.07 252.00,149.22 C253.00,149.36 254.00,149.58 255.00,149.79 C256.00,150.01 257.00,150.27 258.00,150.50 C259.00,150.74 260.00,150.98 261.00,151.19 C262.00,151.39 263.00,151.58 264.00,151.72 C265.00,151.86 266.00,151.96 267.00,152.02 C268.00,152.08 269.00,152.09 270.00,152.09 C271.00,152.08 272.00,152.03 273.00,151.99 C274.00,151.95 275.00,151.88 276.00,151.83 C277.00,151.78 278.00,151.73 279.00,151.69 C280.00,151.65 281.00,151.63 282.00,151.60 C283.00,151.58 284.00,151.57 285.00,151.55 C286.00,151.54 287.00,151.53 288.00,151.53 C289.00,151.52 290.00,151.52 291.00,151.51 C292.00,151.51 292.95,151.67 294.00,151.51 C295.05,151.34 296.72,149.67 297.30,150.50 C297.88,151.33 297.62,155.06 297.50,156.50 C297.38,157.94 297.15,158.15 296.60,159.16 C296.05,160.17 295.38,161.62 294.20,162.56 C293.02,163.49 291.53,164.22 289.50,164.76 C287.47,165.29 285.25,165.52 282.00,165.76 C278.75,165.99 274.50,166.06 270.00,166.16 C265.50,166.26 260.83,166.29 255.00,166.36 C249.17,166.42 241.67,166.49 235.00,166.56 C228.33,166.63 221.67,166.68 215.00,166.79 C208.33,166.90 201.17,166.98 195.00,167.20 C188.83,167.42 181.25,167.96 178.00,168.14 C174.75,168.32 176.33,168.22 175.50,168.28 C174.67,168.34 173.83,168.41 173.00,168.50 C172.17,168.60 171.33,168.70 170.50,168.83 C169.67,168.97 168.83,169.12 168.00,169.31 C167.17,169.51 166.33,169.72 165.50,169.99 C164.67,170.26 163.83,170.57 163.00,170.93 C162.17,171.30 161.33,171.71 160.50,172.20 C159.67,172.69 158.83,173.24 158.00,173.87 C157.17,174.51 156.33,175.21 155.50,176.01 C154.67,176.81 153.83,177.70 153.00,178.68 C152.17,179.67 151.33,180.75 150.50,181.92 C149.67,183.10 148.83,184.38 148.00,185.75 C147.17,187.12 146.33,188.59 145.50,190.13 C144.67,191.67 143.83,193.31 143.00,194.99 C142.17,196.67 141.33,198.44 140.50,200.21 C139.67,201.98 138.83,203.82 138.00,205.61 C137.17,207.41 136.33,209.23 135.50,210.97 C134.67,212.71 133.83,214.44 133.00,216.04 C132.17,217.63 131.33,219.18 130.50,220.54 C129.67,221.91 128.83,223.18 128.00,224.24 C127.17,225.30 126.33,226.21 125.50,226.90 C124.67,227.59 123.83,228.12 123.00,228.37 C122.17,228.62 121.33,228.89 120.50,228.39 C119.67,227.89 118.83,226.89 118.00,225.40 C117.17,223.91 116.33,221.76 115.50,219.45 C114.67,217.13 113.83,214.28 113.00,211.49 C112.17,208.69 111.33,205.57 110.50,202.66 C109.67,199.76 108.83,196.75 108.00,194.05 C107.17,191.35 106.33,188.74 105.50,186.45 C104.67,184.17 103.83,182.10 103.00,180.32 C102.17,178.53 101.33,177.03 100.50,175.74 C99.67,174.45 98.83,173.44 98.00,172.57 C97.17,171.70 96.33,171.07 95.50,170.52 C94.67,169.97 93.83,169.61 93.00,169.29 C92.17,168.97 91.30,168.97 90.50,168.59 C89.70,168.21 88.92,167.47 88.20,167.00 C87.48,166.53 86.67,166.40 86.20,165.80 C85.73,165.20 85.45,164.22 85.40,163.40 C85.35,162.58 84.23,161.67 85.90,160.90Z" stroke="#fa1212" stroke-width="2.1" fill="none" stroke-linejoin="round" stroke-linecap="round"/>
<path d="M85.90,160.90 C87.57,160.13 91.25,159.40 95.40,158.80 C99.55,158.20 106.03,157.83 110.80,157.30 C115.57,156.77 120.43,156.32 124.00,155.60 C127.57,154.88 129.80,154.20 132.20,153.00 C134.60,151.80 136.27,150.53 138.40,148.40 C140.53,146.27 142.98,143.18 145.00,140.20 C147.02,137.22 148.70,133.65 150.50,130.50 C152.30,127.35 153.83,124.37 155.80,121.30 C157.77,118.23 160.33,114.43 162.30,112.10 C164.27,109.77 166.07,107.85 167.60,107.30 C169.13,106.75 169.97,107.78 171.50,108.80 C173.03,109.82 175.05,113.28 176.80,113.40 C178.55,113.52 180.25,111.58 182.00,109.50 C183.75,107.42 185.77,101.78 187.30,100.90 C188.83,100.02 189.88,101.68 191.20,104.20 C192.52,106.72 193.67,110.97 195.20,116.00 C196.73,121.03 198.65,129.13 200.40,134.40 C202.15,139.67 203.50,144.63 205.70,147.60 C207.90,150.57 211.05,151.33 213.60,152.20 C216.15,153.07 218.60,152.75 221.00,152.80 C223.40,152.85 226.33,152.62 228.00,152.51 C229.67,152.40 230.00,152.29 231.00,152.15 C232.00,152.00 233.00,151.83 234.00,151.64 C235.00,151.45 236.00,151.23 237.00,151.01 C238.00,150.80 239.00,150.56 240.00,150.36 C241.00,150.16 242.00,149.95 243.00,149.80 C244.00,149.65 245.00,149.52 246.00,149.46 C247.00,149.39 248.00,149.38 249.00,149.42 C250.00,149.46 251.00,149.57 252.00,149.70 C253.00,149.84 254.00,150.03 255.00,150.22 C256.00,150.41 257.00,150.65 258.00,150.85 C259.00,151.06 260.00,151.28 261.00,151.46 C262.00,151.64 263.00,151.81 264.00,151.94 C265.00,152.07 266.00,152.16 267.00,152.23 C268.00,152.29 269.00,152.32 270.00,152.33 C271.00,152.34 272.00,152.32 273.00,152.30 C274.00,152.28 275.00,152.24 276.00,152.21 C277.00,152.18 278.00,152.15 279.00,152.12 C280.00,152.10 281.00,152.08 282.00,152.07 C283.00,152.05 284.00,152.04 285.00,152.03 C286.00,152.03 287.00,152.02 288.00,152.02 C289.00,152.01 290.00,152.01 291.00,152.01 C292.00,152.01 292.95,152.17 294.00,152.00 C295.05,151.84 296.72,150.17 297.30,151.00 C297.88,151.83 297.62,155.63 297.50,157.00 C297.38,158.37 297.15,158.27 296.60,159.20 C296.05,160.13 295.38,161.67 294.20,162.60 C293.02,163.53 291.53,164.27 289.50,164.80 C287.47,165.33 285.25,165.57 282.00,165.80 C278.75,166.03 274.50,166.10 270.00,166.20 C265.50,166.30 260.83,166.33 255.00,166.40 C249.17,166.47 241.67,166.53 235.00,166.60 C228.33,166.67 221.67,166.70 215.00,166.80 C208.33,166.90 201.17,166.96 195.00,167.20 C188.83,167.44 181.25,168.04 178.00,168.24 C174.75,168.43 176.33,168.32 175.50,168.38 C174.67,168.44 173.83,168.51 173.00,168.60 C172.17,168.69 171.33,168.79 170.50,168.92 C169.67,169.05 168.83,169.20 168.00,169.39 C167.17,169.58 166.33,169.79 165.50,170.06 C164.67,170.32 163.83,170.62 163.00,170.98 C162.17,171.34 161.33,171.74 160.50,172.22 C159.67,172.70 158.83,173.23 158.00,173.85 C157.17,174.47 156.33,175.16 155.50,175.94 C154.67,176.73 153.83,177.60 153.00,178.56 C152.17,179.53 151.33,180.59 150.50,181.75 C149.67,182.91 148.83,184.17 148.00,185.53 C147.17,186.88 146.33,188.34 145.50,189.87 C144.67,191.40 143.83,193.04 143.00,194.72 C142.17,196.40 141.33,198.18 140.50,199.96 C139.67,201.75 138.83,203.60 138.00,205.43 C137.17,207.25 136.33,209.12 135.50,210.91 C134.67,212.70 133.83,214.50 133.00,216.17 C132.17,217.84 131.33,219.48 130.50,220.94 C129.67,222.41 128.83,223.79 128.00,224.96 C127.17,226.14 126.33,227.19 125.50,228.01 C124.67,228.83 123.83,229.48 123.00,229.89 C122.17,230.31 121.33,230.73 120.50,230.50 C119.67,230.26 118.83,229.71 118.00,228.47 C117.17,227.22 116.33,225.26 115.50,223.04 C114.67,220.81 113.83,217.97 113.00,215.12 C112.17,212.27 111.33,209.01 110.50,205.95 C109.67,202.89 108.83,199.66 108.00,196.75 C107.17,193.84 106.33,191.00 105.50,188.49 C104.67,185.99 103.83,183.71 103.00,181.74 C102.17,179.77 101.33,178.10 100.50,176.67 C99.67,175.23 98.83,174.11 98.00,173.14 C97.17,172.18 96.33,171.48 95.50,170.87 C94.67,170.26 93.83,169.86 93.00,169.51 C92.17,169.15 91.30,169.16 90.50,168.74 C89.70,168.33 88.92,167.49 88.20,167.00 C87.48,166.51 86.67,166.40 86.20,165.80 C85.73,165.20 85.45,164.22 85.40,163.40 C85.35,162.58 84.23,161.67 85.90,160.90Z" stroke="#ff1a16" stroke-width="2.1" fill="none" stroke-linejoin="round" stroke-linecap="round"/>
<path d="M218.00,153.20 C219.00,153.27 222.60,153.05 224.00,153.60 C225.40,154.15 225.97,155.35 226.40,156.50 C226.83,157.65 226.92,159.28 226.60,160.50 C226.28,161.72 225.68,162.98 224.50,163.80 C223.32,164.62 221.58,165.03 219.50,165.40 C217.42,165.77 213.25,165.90 212.00,166.00" stroke="#ff1a16" stroke-width="1.9" fill="none" stroke-linejoin="round" stroke-linecap="round"/>
<path d="M219.20,159.00 C218.50,159.43 217.37,161.02 215.00,161.60 C212.63,162.18 211.67,162.23 205.00,162.50 C198.33,162.77 185.00,163.00 175.00,163.20 C165.00,163.40 154.17,163.57 145.00,163.70 C135.83,163.83 126.67,163.92 120.00,164.00 C113.33,164.08 110.00,164.05 105.00,164.20 C100.00,164.35 93.10,164.90 90.00,164.90 C86.90,164.90 87.00,164.65 86.40,164.20 C85.80,163.75 85.80,162.73 86.40,162.20 C87.00,161.67 86.78,161.43 90.00,161.00 C93.22,160.57 99.87,159.87 105.70,159.60 C111.53,159.33 118.45,159.48 125.00,159.40 C131.55,159.32 136.67,159.30 145.00,159.10 C153.33,158.90 165.83,158.55 175.00,158.20 C184.17,157.85 193.17,157.37 200.00,157.00 C206.83,156.63 211.75,156.33 216.00,156.00 C220.25,155.67 223.00,155.58 225.50,155.00 C228.00,154.42 229.42,154.00 231.00,152.50 C232.58,151.00 233.40,150.03 235.00,146.00 C236.60,141.97 238.22,135.63 240.60,128.30 C242.98,120.97 246.40,111.10 249.30,102.00 C252.20,92.90 255.27,81.70 258.00,73.70 C260.73,65.70 263.70,58.20 265.70,54.00 C267.70,49.80 268.73,49.63 270.00,48.50 C271.27,47.37 272.22,47.20 273.30,47.20 C274.38,47.20 275.47,47.37 276.50,48.50 C277.53,49.63 278.53,51.25 279.50,54.00 C280.47,56.75 280.67,60.23 282.30,65.00 C283.93,69.77 287.27,77.77 289.30,82.60 C291.33,87.43 293.25,91.13 294.50,94.00 C295.75,96.87 296.30,97.47 296.80,99.80 C297.30,102.13 297.37,105.08 297.50,108.00 C297.63,110.92 297.92,113.37 297.60,117.30 C297.28,121.23 296.65,127.40 295.60,131.60 C294.55,135.80 293.07,139.67 291.30,142.50 C289.53,145.33 287.87,146.75 285.00,148.60 C282.13,150.45 277.93,152.43 274.10,153.60 C270.27,154.77 265.28,154.98 262.00,155.60 C258.72,156.22 257.23,156.63 254.40,157.30 C251.57,157.97 247.73,158.77 245.00,159.60 C242.27,160.43 240.17,161.55 238.00,162.30 C235.83,163.05 234.73,163.62 232.00,164.10 C229.27,164.58 225.27,164.95 221.60,165.20 C217.93,165.45 211.93,165.53 210.00,165.60" stroke="#000" stroke-width="2.0" fill="none" stroke-linejoin="round" stroke-linecap="round"/>
<path d="M149.10,96.10 C152.08,96.28 160.93,96.45 167.00,97.20 C173.07,97.95 180.00,98.97 185.50,100.60 C191.00,102.23 195.62,104.10 200.00,107.00 C204.38,109.90 208.30,114.33 211.80,118.00 C215.30,121.67 218.32,125.12 221.00,129.00 C223.68,132.88 226.30,137.13 227.90,141.30 C229.50,145.47 230.37,150.22 230.60,154.00 C230.83,157.78 230.15,161.13 229.30,164.00 C228.45,166.87 226.68,169.40 225.50,171.20 C224.32,173.00 222.75,174.20 222.20,174.80" stroke="#000" stroke-width="2.0" fill="none" stroke-linejoin="round" stroke-linecap="round"/>
<path d="M218.60,178.60 L221.07,170.00 L226.96,175.42Z" fill="#000"/>
<path d="M172.40,230.40 C170.33,231.33 164.13,234.55 160.00,236.00 C155.87,237.45 152.27,238.67 147.60,239.10 C142.93,239.53 136.87,239.33 132.00,238.60 C127.13,237.87 122.90,236.80 118.40,234.70 C113.90,232.60 108.90,229.40 105.00,226.00 C101.10,222.60 97.92,218.47 95.00,214.30 C92.08,210.13 89.43,205.38 87.50,201.00 C85.57,196.62 84.15,192.17 83.40,188.00 C82.65,183.83 82.77,179.88 83.00,176.00 C83.23,172.12 83.97,168.12 84.80,164.70 C85.63,161.28 86.88,157.92 88.00,155.50 C89.12,153.08 90.92,151.08 91.50,150.20" stroke="#000" stroke-width="2.0" fill="none" stroke-linejoin="round" stroke-linecap="round"/>
<path d="M97.20,143.40 L94.70,151.99 L88.83,146.55Z" fill="#000"/>
<line x1="253.10" y1="50.70" x2="302.00" y2="50.70" stroke="#000" stroke-width="2.0"/>
<path d="M309.20,50.70 L300.70,54.90 L300.70,46.50Z" fill="#000"/>
<defs><linearGradient id="ga" x1="0" y1="0" x2="0" y2="1"><stop offset="0" stop-color="#1c0000"/><stop offset="0.22" stop-color="#600806"/><stop offset="0.45" stop-color="#b01610"/><stop offset="0.7" stop-color="#e21a10"/><stop offset="1" stop-color="#ff2412"/></linearGradient></defs>
<path d="M327.1,141.5 L338.7,141.5 L338.7,165.5 L345.0,165.5 L333.2,177.3 L321.3,165.5 L327.1,165.5 Z" fill="url(#ga)"/>
<text x="305.50" y="130.40" font-size="16.8" font-weight="bold" text-anchor="start" fill="#000">1 cycle</text>
<text x="300.30" y="200.30" font-size="16.8" font-weight="bold" text-anchor="start" fill="#000">26 cycle</text>
<path d="M116.50,84.00 L128.62,91.00 L128.62,105.00 L116.50,112.00 L104.38,105.00 L104.38,91.00Z" fill="none" stroke="#404040" stroke-width="1.1" stroke-linejoin="round"/>
<line x1="117.38" y1="87.51" x2="125.14" y2="91.99" stroke="#404040" stroke-width="1.1"/>
<line x1="125.14" y1="104.01" x2="117.38" y2="108.49" stroke="#404040" stroke-width="1.1"/>
<line x1="106.98" y1="102.48" x2="106.98" y2="93.52" stroke="#404040" stroke-width="1.1"/>
<line x1="116.50" y1="84.00" x2="116.50" y2="69.40" stroke="#404040" stroke-width="1.1"/>
<line x1="116.50" y1="69.40" x2="107.37" y2="64.50" stroke="#404040" stroke-width="1.1"/>
<line x1="115.78" y1="66.52" x2="108.76" y2="62.75" stroke="#404040" stroke-width="1.1" stroke-dasharray="2 1.5"/>
<text x="104.20" y="65.97" font-size="8.8" font-weight="normal" text-anchor="middle" fill="#404040">O</text>
<line x1="104.20" y1="58.20" x2="104.20" y2="48.20" stroke="#404040" stroke-width="1.1" stroke-dasharray="3 2.2"/>
<line x1="116.50" y1="69.40" x2="125.63" y2="64.50" stroke="#404040" stroke-width="1.1"/>
<line x1="117.22" y1="66.52" x2="124.24" y2="62.75" stroke="#404040" stroke-width="1.1" stroke-dasharray="2 1.5"/>
<text x="128.80" y="65.97" font-size="8.8" font-weight="normal" text-anchor="middle" fill="#404040">O</text>
<line x1="128.80" y1="58.20" x2="128.80" y2="48.20" stroke="#404040" stroke-width="1.1" stroke-dasharray="3 2.2"/>
<line x1="113.90" y1="58.40" x2="119.10" y2="58.40" stroke="#404040" stroke-width="1.0"/>
<line x1="116.50" y1="112.00" x2="116.50" y2="126.60" stroke="#404040" stroke-width="1.1"/>
<line x1="116.50" y1="126.60" x2="107.37" y2="131.50" stroke="#404040" stroke-width="1.1"/>
<line x1="115.78" y1="129.48" x2="108.76" y2="133.25" stroke="#404040" stroke-width="1.1" stroke-dasharray="2 1.5"/>
<text x="104.20" y="136.37" font-size="8.8" font-weight="normal" text-anchor="middle" fill="#404040">O</text>
<line x1="104.20" y1="137.80" x2="104.20" y2="147.80" stroke="#404040" stroke-width="1.1" stroke-dasharray="3 2.2"/>
<line x1="116.50" y1="126.60" x2="125.63" y2="131.50" stroke="#404040" stroke-width="1.1"/>
<line x1="117.22" y1="129.48" x2="124.24" y2="133.25" stroke="#404040" stroke-width="1.1" stroke-dasharray="2 1.5"/>
<text x="128.80" y="136.37" font-size="8.8" font-weight="normal" text-anchor="middle" fill="#404040">O</text>
<line x1="128.80" y1="137.80" x2="128.80" y2="147.80" stroke="#404040" stroke-width="1.1" stroke-dasharray="3 2.2"/>
<line x1="113.90" y1="137.60" x2="119.10" y2="137.60" stroke="#404040" stroke-width="1.0"/>
<line x1="104.38" y1="91.00" x2="96.39" y2="86.93" stroke="#404040" stroke-width="1.1"/>
<text x="93.30" y="88.37" font-size="8.8" font-weight="normal" text-anchor="middle" fill="#404040">O</text>
<text x="86.60" y="88.37" font-size="8.8" font-weight="normal" text-anchor="middle" fill="#ff2a2a">H</text>
<line x1="128.62" y1="105.00" x2="137.58" y2="110.59" stroke="#404040" stroke-width="1.1"/>
<text x="140.80" y="115.77" font-size="8.8" font-weight="normal" text-anchor="middle" fill="#404040">O</text>
<text x="147.50" y="115.77" font-size="8.8" font-weight="normal" text-anchor="middle" fill="#ff2a2a">H</text>
<path d="M219.20,36.60 L231.32,43.60 L231.32,57.60 L219.20,64.60 L207.08,57.60 L207.08,43.60Z" fill="none" stroke="#404040" stroke-width="1.1" stroke-linejoin="round"/>
<line x1="220.08" y1="40.11" x2="227.84" y2="44.59" stroke="#404040" stroke-width="1.1"/>
<line x1="227.84" y1="56.61" x2="220.08" y2="61.09" stroke="#404040" stroke-width="1.1"/>
<line x1="209.68" y1="55.08" x2="209.68" y2="46.12" stroke="#404040" stroke-width="1.1"/>
<line x1="219.20" y1="36.60" x2="219.20" y2="22.00" stroke="#404040" stroke-width="1.1"/>
<line x1="219.20" y1="22.00" x2="210.07" y2="17.10" stroke="#404040" stroke-width="1.1"/>
<line x1="218.48" y1="19.12" x2="211.46" y2="15.35" stroke="#404040" stroke-width="1.1" stroke-dasharray="2 1.5"/>
<text x="206.90" y="18.57" font-size="8.8" font-weight="normal" text-anchor="middle" fill="#404040">O</text>
<line x1="206.90" y1="10.80" x2="206.90" y2="0.80" stroke="#404040" stroke-width="1.1" stroke-dasharray="3 2.2"/>
<line x1="219.20" y1="22.00" x2="228.33" y2="17.10" stroke="#404040" stroke-width="1.1"/>
<line x1="219.92" y1="19.12" x2="226.94" y2="15.35" stroke="#404040" stroke-width="1.1" stroke-dasharray="2 1.5"/>
<text x="231.50" y="18.57" font-size="8.8" font-weight="normal" text-anchor="middle" fill="#404040">O</text>
<line x1="231.50" y1="10.80" x2="231.50" y2="0.80" stroke="#404040" stroke-width="1.1" stroke-dasharray="3 2.2"/>
<line x1="216.60" y1="11.00" x2="221.80" y2="11.00" stroke="#404040" stroke-width="1.0"/>
<line x1="219.20" y1="64.60" x2="219.20" y2="79.20" stroke="#404040" stroke-width="1.1"/>
<line x1="219.20" y1="79.20" x2="210.07" y2="84.10" stroke="#404040" stroke-width="1.1"/>
<line x1="218.48" y1="82.08" x2="211.46" y2="85.85" stroke="#404040" stroke-width="1.1" stroke-dasharray="2 1.5"/>
<text x="206.90" y="88.97" font-size="8.8" font-weight="normal" text-anchor="middle" fill="#404040">O</text>
<line x1="206.90" y1="90.40" x2="206.90" y2="100.40" stroke="#404040" stroke-width="1.1" stroke-dasharray="3 2.2"/>
<line x1="219.20" y1="79.20" x2="228.33" y2="84.10" stroke="#404040" stroke-width="1.1"/>
<line x1="219.92" y1="82.08" x2="226.94" y2="85.85" stroke="#404040" stroke-width="1.1" stroke-dasharray="2 1.5"/>
<text x="231.50" y="88.97" font-size="8.8" font-weight="normal" text-anchor="middle" fill="#404040">O</text>
<line x1="231.50" y1="90.40" x2="231.50" y2="100.40" stroke="#404040" stroke-width="1.1" stroke-dasharray="3 2.2"/>
<line x1="216.60" y1="90.20" x2="221.80" y2="90.20" stroke="#404040" stroke-width="1.0"/>
<line x1="207.08" y1="43.60" x2="198.53" y2="38.92" stroke="#404040" stroke-width="1.1"/>
<text x="195.20" y="40.27" font-size="8.8" font-weight="normal" text-anchor="middle" fill="#404040">O</text>
<text x="192.30" y="24.77" font-size="8.8" font-weight="normal" text-anchor="middle" fill="#ff2a2a">H</text>
<line x1="194.60" y1="32.50" x2="192.90" y2="25.80" stroke="#ff2a2a" stroke-width="1.1" stroke-dasharray="2 1.6"/>
<line x1="196.30" y1="20.60" x2="203.20" y2="16.60" stroke="#ff2a2a" stroke-width="1.1" stroke-dasharray="2 1.6"/>
<line x1="231.32" y1="57.60" x2="239.99" y2="63.07" stroke="#404040" stroke-width="1.1"/>
<text x="243.20" y="68.27" font-size="8.8" font-weight="normal" text-anchor="middle" fill="#404040">O</text>
<text x="246.10" y="84.07" font-size="8.8" font-weight="normal" text-anchor="middle" fill="#ff2a2a">H</text>
<line x1="243.80" y1="69.70" x2="245.70" y2="76.50" stroke="#ff2a2a" stroke-width="1.1" stroke-dasharray="2 1.6"/>
<line x1="242.10" y1="82.10" x2="235.20" y2="85.60" stroke="#ff2a2a" stroke-width="1.1" stroke-dasharray="2 1.6"/>
<path d="M337.80,36.90 L349.92,43.90 L349.92,57.90 L337.80,64.90 L325.68,57.90 L325.68,43.90Z" fill="none" stroke="#404040" stroke-width="1.1" stroke-linejoin="round"/>
<line x1="338.68" y1="40.41" x2="346.44" y2="44.89" stroke="#404040" stroke-width="1.1"/>
<line x1="336.92" y1="61.39" x2="329.16" y2="56.91" stroke="#404040" stroke-width="1.1"/>
<line x1="337.80" y1="36.90" x2="337.80" y2="22.30" stroke="#404040" stroke-width="1.1"/>
<line x1="337.80" y1="22.30" x2="328.67" y2="17.40" stroke="#404040" stroke-width="1.1"/>
<line x1="337.08" y1="19.42" x2="330.06" y2="15.65" stroke="#404040" stroke-width="1.1" stroke-dasharray="2 1.5"/>
<text x="325.50" y="18.87" font-size="8.8" font-weight="normal" text-anchor="middle" fill="#404040">O</text>
<line x1="325.50" y1="11.10" x2="325.50" y2="1.10" stroke="#404040" stroke-width="1.1" stroke-dasharray="3 2.2"/>
<line x1="337.80" y1="22.30" x2="346.93" y2="17.40" stroke="#404040" stroke-width="1.1"/>
<line x1="338.52" y1="19.42" x2="345.54" y2="15.65" stroke="#404040" stroke-width="1.1" stroke-dasharray="2 1.5"/>
<text x="350.10" y="18.87" font-size="8.8" font-weight="normal" text-anchor="middle" fill="#404040">O</text>
<line x1="350.10" y1="11.10" x2="350.10" y2="1.10" stroke="#404040" stroke-width="1.1" stroke-dasharray="3 2.2"/>
<line x1="335.20" y1="11.30" x2="340.40" y2="11.30" stroke="#404040" stroke-width="1.0"/>
<line x1="337.80" y1="64.90" x2="337.80" y2="79.50" stroke="#404040" stroke-width="1.1"/>
<line x1="337.80" y1="79.50" x2="328.67" y2="84.40" stroke="#404040" stroke-width="1.1"/>
<line x1="337.08" y1="82.38" x2="330.06" y2="86.15" stroke="#404040" stroke-width="1.1" stroke-dasharray="2 1.5"/>
<text x="325.50" y="89.27" font-size="8.8" font-weight="normal" text-anchor="middle" fill="#404040">O</text>
<line x1="325.50" y1="90.70" x2="325.50" y2="100.70" stroke="#404040" stroke-width="1.1" stroke-dasharray="3 2.2"/>
<line x1="337.80" y1="79.50" x2="346.93" y2="84.40" stroke="#404040" stroke-width="1.1"/>
<line x1="338.52" y1="82.38" x2="345.54" y2="86.15" stroke="#404040" stroke-width="1.1" stroke-dasharray="2 1.5"/>
<text x="350.10" y="89.27" font-size="8.8" font-weight="normal" text-anchor="middle" fill="#404040">O</text>
<line x1="350.10" y1="90.70" x2="350.10" y2="100.70" stroke="#404040" stroke-width="1.1" stroke-dasharray="3 2.2"/>
<line x1="335.20" y1="90.50" x2="340.40" y2="90.50" stroke="#404040" stroke-width="1.0"/>
<line x1="326.23" y1="42.89" x2="317.38" y2="38.02" stroke="#404040" stroke-width="1.1"/>
<line x1="325.12" y1="44.91" x2="316.27" y2="40.04" stroke="#404040" stroke-width="1.1"/>
<text x="313.50" y="40.37" font-size="8.8" font-weight="normal" text-anchor="middle" fill="#404040">O</text>
<line x1="349.33" y1="58.88" x2="357.95" y2="64.11" stroke="#404040" stroke-width="1.1"/>
<line x1="350.52" y1="56.92" x2="359.15" y2="62.15" stroke="#404040" stroke-width="1.1"/>
<text x="361.80" y="68.27" font-size="8.8" font-weight="normal" text-anchor="middle" fill="#404040">O</text>
<path d="M199.80,213.80 L211.92,220.80 L211.92,234.80 L199.80,241.80 L187.68,234.80 L187.68,220.80Z" fill="none" stroke="#404040" stroke-width="1.1" stroke-linejoin="round"/>
<line x1="200.68" y1="217.31" x2="208.44" y2="221.79" stroke="#404040" stroke-width="1.1"/>
<line x1="198.92" y1="238.29" x2="191.16" y2="233.81" stroke="#404040" stroke-width="1.1"/>
<line x1="199.80" y1="213.80" x2="199.80" y2="199.20" stroke="#404040" stroke-width="1.1"/>
<line x1="199.80" y1="199.20" x2="190.67" y2="194.30" stroke="#404040" stroke-width="1.1"/>
<line x1="199.08" y1="196.32" x2="192.06" y2="192.55" stroke="#404040" stroke-width="1.1" stroke-dasharray="2 1.5"/>
<text x="187.50" y="195.77" font-size="8.8" font-weight="normal" text-anchor="middle" fill="#404040">O</text>
<line x1="187.50" y1="188.00" x2="187.50" y2="178.00" stroke="#404040" stroke-width="1.1" stroke-dasharray="3 2.2"/>
<line x1="199.80" y1="199.20" x2="208.93" y2="194.30" stroke="#404040" stroke-width="1.1"/>
<line x1="200.52" y1="196.32" x2="207.54" y2="192.55" stroke="#404040" stroke-width="1.1" stroke-dasharray="2 1.5"/>
<text x="212.10" y="195.77" font-size="8.8" font-weight="normal" text-anchor="middle" fill="#404040">O</text>
<line x1="212.10" y1="188.00" x2="212.10" y2="178.00" stroke="#404040" stroke-width="1.1" stroke-dasharray="3 2.2"/>
<line x1="197.20" y1="188.20" x2="202.40" y2="188.20" stroke="#404040" stroke-width="1.0"/>
<line x1="199.80" y1="241.80" x2="199.80" y2="256.40" stroke="#404040" stroke-width="1.1"/>
<line x1="199.80" y1="256.40" x2="190.67" y2="261.30" stroke="#404040" stroke-width="1.1"/>
<line x1="199.08" y1="259.28" x2="192.06" y2="263.05" stroke="#404040" stroke-width="1.1" stroke-dasharray="2 1.5"/>
<text x="187.50" y="266.17" font-size="8.8" font-weight="normal" text-anchor="middle" fill="#404040">O</text>
<line x1="187.50" y1="267.60" x2="187.50" y2="277.60" stroke="#404040" stroke-width="1.1" stroke-dasharray="3 2.2"/>
<line x1="199.80" y1="256.40" x2="208.93" y2="261.30" stroke="#404040" stroke-width="1.1"/>
<line x1="200.52" y1="259.28" x2="207.54" y2="263.05" stroke="#404040" stroke-width="1.1" stroke-dasharray="2 1.5"/>
<text x="212.10" y="266.17" font-size="8.8" font-weight="normal" text-anchor="middle" fill="#404040">O</text>
<line x1="212.10" y1="267.60" x2="212.10" y2="277.60" stroke="#404040" stroke-width="1.1" stroke-dasharray="3 2.2"/>
<line x1="197.20" y1="267.40" x2="202.40" y2="267.40" stroke="#404040" stroke-width="1.0"/>
<line x1="188.23" y1="219.79" x2="179.38" y2="214.92" stroke="#404040" stroke-width="1.1"/>
<line x1="187.12" y1="221.81" x2="178.27" y2="216.94" stroke="#404040" stroke-width="1.1"/>
<text x="175.50" y="217.27" font-size="8.8" font-weight="normal" text-anchor="middle" fill="#404040">O</text>
<line x1="211.33" y1="235.78" x2="219.95" y2="241.01" stroke="#404040" stroke-width="1.1"/>
<line x1="212.52" y1="233.82" x2="221.15" y2="239.05" stroke="#404040" stroke-width="1.1"/>
<text x="223.80" y="245.17" font-size="8.8" font-weight="normal" text-anchor="middle" fill="#404040">O</text>
</svg>
</body></html>
